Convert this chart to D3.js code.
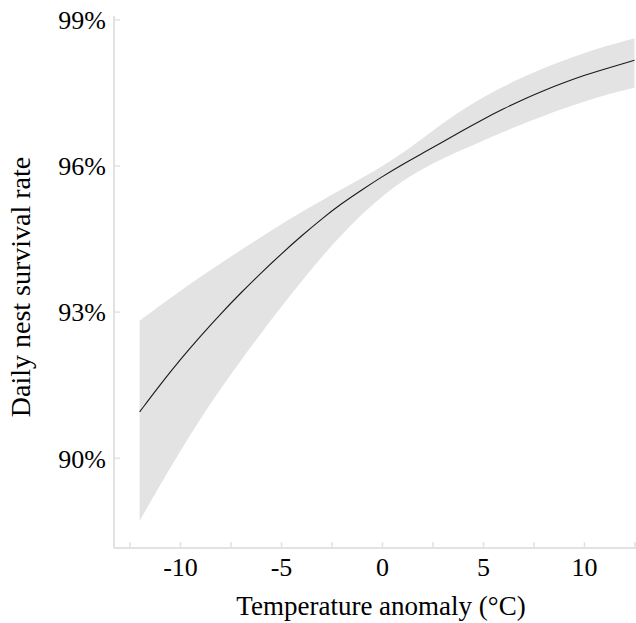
<!DOCTYPE html>
<html>
<head>
<meta charset="utf-8">
<script src="https://cdn.jsdelivr.net/npm/d3@7"></script>
<style>
  body { margin: 0; background: #fff; }
  svg text { font-family: "Liberation Serif", "Times New Roman", serif; fill: #000; }
</style>
</head>
<body>
<svg width="636" height="623"></svg>
<script>
// temperature anomaly (°C) and fitted daily nest survival (%)
const temp      = [-12, -11, -10, -9, -8, -7, -6, -5, -4, -3, -2, -1, 0, 1, 2, 3, 4, 5, 6, 7, 8, 9, 10, 11, 12, 12.5];
const rateFit   = [90.94, 91.49, 92.01, 92.49, 92.95, 93.38, 93.79, 94.18, 94.55, 94.90, 95.22, 95.50, 95.77,
                   96.02, 96.25, 96.48, 96.72, 96.95, 97.16, 97.36, 97.54, 97.70, 97.85, 97.98, 98.10, 98.16];
const rateLower = [88.70, 89.43, 90.13, 90.79, 91.41, 91.99, 92.55, 93.09, 93.62, 94.12, 94.58, 95.00, 95.37,
                   95.68, 95.93, 96.14, 96.33, 96.51, 96.69, 96.86, 97.02, 97.17, 97.31, 97.44, 97.55, 97.60];
const rateUpper = [92.81, 93.12, 93.42, 93.71, 93.99, 94.26, 94.53, 94.79, 95.04, 95.28, 95.51, 95.74, 95.98,
                   96.25, 96.55, 96.87, 97.15, 97.40, 97.62, 97.82, 98.00, 98.16, 98.31, 98.44, 98.56, 98.61];
const xTicks = [-12.5, -10, -7.5, -5, -2.5, 0, 2.5, 5, 7.5, 10, 12.5];
const yTicks = [90, 93, 96, 99];

let svg = d3.select("svg");

const mLeft = 114, mRight = 636, mTop = 16, mBottom = 548;

let x = d3.scaleLinear().domain([-10, 10]).range([180, 584]);
let y = d3.scaleLinear().domain([90, 99]).range([457.7, 19.4]);

const rows = temp.map((t, i) => ({t: t, fit: rateFit[i], lo: rateLower[i], hi: rateUpper[i]}));

// confidence band
svg.append("path")
    .datum(rows)
    .attr("fill", "#e3e3e3")
    .attr("d", d3.area()
        .curve(d3.curveBasis)
        .x(d => x(d.t))
        .y0(d => y(d.lo))
        .y1(d => y(d.hi)));

// fitted line
svg.append("path")
    .datum(rows)
    .attr("fill", "none")
    .attr("stroke", "#1a1a1a")
    .attr("stroke-width", 1.1)
    .attr("d", d3.line()
        .curve(d3.curveBasis)
        .x(d => x(d.t))
        .y(d => y(d.fit)));

// axes
let xAxis = svg.append("g")
    .attr("transform", `translate(0,${mBottom})`)
    .call(d3.axisBottom(x)
        .tickValues(xTicks)
        .tickSize(-6)
        .tickPadding(10)
        .tickFormat(d => d % 5 === 0 ? String(d) : ""));
xAxis.select(".domain").remove();
xAxis.append("line")
    .attr("x1", mLeft).attr("x2", mRight)
    .attr("stroke", "#e2e2e2").attr("stroke-width", 2);

let yAxis = svg.append("g")
    .attr("transform", `translate(${mLeft},0)`)
    .call(d3.axisLeft(y)
        .tickValues(yTicks)
        .tickSize(-6)
        .tickPadding(8)
        .tickFormat(d => d + "%"));
yAxis.select(".domain").remove();
yAxis.append("line")
    .attr("y1", mTop).attr("y2", mBottom)
    .attr("stroke", "#e2e2e2").attr("stroke-width", 2);

svg.selectAll(".tick line").attr("stroke", "#e2e2e2").attr("stroke-width", 1.5);
svg.selectAll(".tick text").attr("font-size", 26);
svg.selectAll("g").attr("font-family", null);
yAxis.selectAll(".tick text").attr("dy", "0.36em");

// axis titles
svg.append("text")
    .attr("x", 381)
    .attr("y", 615)
    .attr("text-anchor", "middle")
    .attr("font-size", 27)
    .text("Temperature anomaly (°C)");

svg.append("text")
    .attr("transform", "translate(30,287) rotate(-90)")
    .attr("text-anchor", "middle")
    .attr("font-size", 28)
    .text("Daily nest survival rate");
</script>
</body>
</html>
